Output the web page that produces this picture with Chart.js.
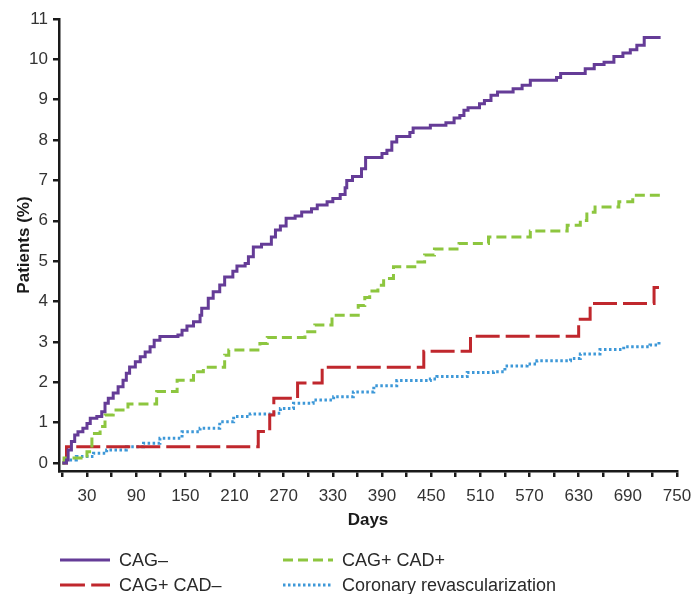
<!DOCTYPE html>
<html>
<head>
<meta charset="utf-8">
<script src="https://cdn.jsdelivr.net/npm/chart.js@4.4.1/dist/chart.umd.min.js"></script>
<style>
  html, body { margin: 0; padding: 0; background: #fff; }
  #wrap { position: relative; width: 693px; height: 594px; }
  #wrap canvas { position: absolute; left: 0; top: 0; }
  .leg { position: absolute; height: 24px; font: 18px 'Liberation Sans', Arial, sans-serif; color: #2a2a2a; line-height: 24px; white-space: nowrap; }
  .leg svg { position: absolute; left: 0; top: 0; }
  .leg span { position: absolute; top: 0; }
</style>
</head>
<body>
<div id="wrap">
  <canvas id="chart"></canvas>
  <div id="legend"></div>
</div>
<script>
// ---- data (days vs % of patients) ----
const xTicks     = [0,30,60,90,120,150,180,210,240,270,300,330,360,390,420,450,480,510,540,570,600,630,660,690,720,750];
const xLabelled  = [30,90,150,210,270,330,390,450,510,570,630,690,750];
const yTicks     = [0,1,2,3,4,5,6,7,8,9,10,11];

const seriesNames = ['CAG–', 'CAG+ CAD+', 'CAG+ CAD–', 'Coronary revascularization'];

const cagNegDays = [0,5,7,11,15,19,25,30,34,42,48,52,56,62,68,74,78,82,89,95,101,107,112,119,141,146,152,160,168,170,178,184,192,198,208,213,223,227,233,243,255,260,266,273,284,292,304,311,323,330,339,345,347,354,365,370,390,396,402,408,424,428,449,468,478,485,490,495,509,515,523,531,550,561,571,603,608,638,649,661,673,684,693,701,710,730];
const cagNegPct  = [0,0.07,0.32,0.53,0.69,0.77,0.86,0.98,1.11,1.15,1.27,1.48,1.6,1.73,1.89,2.05,2.22,2.38,2.51,2.63,2.75,2.88,3.04,3.13,3.17,3.29,3.39,3.5,3.66,3.83,4.08,4.24,4.41,4.61,4.75,4.88,4.94,5.11,5.35,5.42,5.6,5.77,5.87,6.06,6.12,6.22,6.3,6.39,6.47,6.55,6.65,6.82,7.0,7.1,7.29,7.57,7.67,7.75,7.95,8.09,8.19,8.3,8.37,8.43,8.55,8.61,8.74,8.8,8.9,8.98,9.11,9.19,9.27,9.36,9.48,9.55,9.65,9.77,9.87,9.93,10.07,10.16,10.24,10.35,10.54,10.54];

const cadPosDays = [0,2,30,36,46,52,62,80,115,140,160,172,198,203,241,250,296,308,329,361,369,375,385,392,404,430,442,454,484,520,571,616,632,640,650,679,696,730];
const cadPosPct  = [0,0.12,0.28,0.73,0.9,1.19,1.31,1.46,1.77,2.05,2.26,2.37,2.67,2.8,2.96,3.11,3.25,3.42,3.66,3.9,4.1,4.26,4.4,4.57,4.86,4.98,5.15,5.3,5.44,5.6,5.75,5.89,6.01,6.21,6.34,6.47,6.63,6.63];

const cadNegDays = [0,5,239,253,258,287,317,441,498,630,644,722,728];
const cadNegPct  = [0,0.4,0.78,1.19,1.6,1.98,2.37,2.77,3.14,3.56,3.95,4.35,4.35];

const revascDays = [0,5,17,38,54,78,99,119,146,168,192,209,229,254,266,282,306,331,355,380,408,449,457,494,526,540,567,579,620,632,656,685,717,728];
const revascPct  = [0,0.07,0.16,0.24,0.32,0.4,0.49,0.61,0.77,0.86,1.02,1.15,1.21,1.23,1.35,1.48,1.56,1.64,1.76,1.91,2.04,2.08,2.14,2.24,2.26,2.4,2.45,2.53,2.59,2.7,2.81,2.88,2.92,3.0];

// ---- styles ----
const COLORS = ['#653c97', '#8dc63f', '#c0272d', '#3d98d8'];
const DASHES = [[], [10, 5], [24, 6], [2.5, 2.5]];
const FONT   = "'Liberation Sans', Arial, sans-serif";
const INK    = '#1a1a1a';

const zip = (xs, ys) => xs.map((x, i) => ({ x, y: ys[i] }));

const seriesData = [
  zip(cagNegDays, cagNegPct),
  zip(cadPosDays, cadPosPct),
  zip(cadNegDays, cadNegPct),
  zip(revascDays, revascPct),
];

// draw order: blue underneath, purple on top
const datasets = seriesData.map((d, i) => ({
  label:       seriesNames[i],
  data:        d,
  stepped:     'before',
  borderColor: COLORS[i],
  borderWidth: 3,
  borderDash:  DASHES[i],
  pointRadius: 0,
  fill:        false,
  order:       i === 3 ? 4 : i,
}));

const axisGrid = {
  drawOnChartArea: false,
  drawTicks:       true,
  tickLength:      6,
  color:           INK,
  lineWidth:       2.5,
};

new Chart(document.getElementById('chart'), {
  type: 'line',
  data: { datasets },
  options: {
    responsive:          true,
    maintainAspectRatio: false,
    animation:           false,
    layout: { padding: { left: 0, right: 16, top: 19, bottom: 63 } },
    plugins: {
      legend:  { display: false },
      tooltip: { enabled: false },
    },
    scales: {
      x: {
        type: 'linear',
        min:  -4.15,
        max:  750,
        afterBuildTicks: s => { s.ticks = xTicks.map(v => ({ value: v })); },
        afterFit:        s => { s.height = 60; s.paddingLeft = 0; s.paddingRight = 0; },
        ticks: {
          autoSkip:    false,
          maxRotation: 0,
          padding:     9,
          color:       '#333',
          font:        { family: FONT, size: 17 },
          callback:    v => xLabelled.includes(v) ? String(v) : '',
        },
        grid:   axisGrid,
        border: { display: true, color: INK, width: 2.5 },
        title: {
          display: true,
          text:    'Days',
          color:   INK,
          font:    { family: FONT, size: 17, weight: 'bold' },
          padding: { top: 0, bottom: 0 },
        },
      },
      y: {
        type: 'linear',
        min:  -0.2,
        max:  11,
        afterBuildTicks: s => { s.ticks = yTicks.map(v => ({ value: v })); },
        afterFit:        s => { s.width = 59; s.paddingTop = 0; s.paddingBottom = 0; },
        ticks: {
          padding: 5,
          color:   '#333',
          font:    { family: FONT, size: 17 },
        },
        grid:   axisGrid,
        border: { display: true, color: INK, width: 2.5 },
        title: {
          display: true,
          text:    'Patients (%)',
          color:   INK,
          font:    { family: FONT, size: 17, weight: 'bold' },
          padding: { top: 14, bottom: 0 },
        },
      },
    },
  },
});

// ---- legend (two columns, two rows, below the plot) ----
const LEGEND_POS = [
  { left: 60,  top: 548 },
  { left: 283, top: 548 },
  { left: 60,  top: 573 },
  { left: 283, top: 573 },
];

document.getElementById('legend').innerHTML = seriesNames.map((name, i) => {
  const p = LEGEND_POS[i];
  const dash = DASHES[i].length ? `stroke-dasharray="${DASHES[i].map(d => i === 2 ? d * 1.04 : d).join(' ')}"` : '';
  return `
    <div class="leg" style="left:${p.left}px;top:${p.top}px;width:400px">
      <svg width="52" height="24"><line x1="0" y1="12" x2="50" y2="12" stroke="${COLORS[i]}" stroke-width="3" ${dash}/></svg>
      <span style="left:59px">${name}</span>
    </div>`;
}).join('');
</script>
</body>
</html>
